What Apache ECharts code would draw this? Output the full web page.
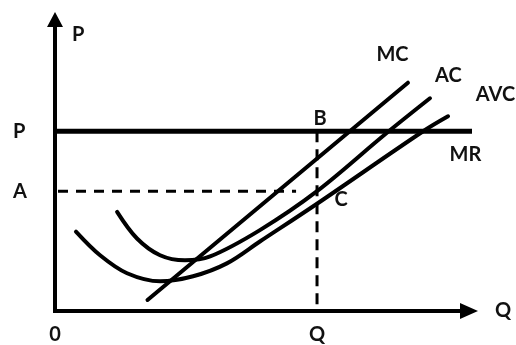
<!DOCTYPE html>
<html>
<head>
<meta charset="utf-8">
<script src="https://cdn.jsdelivr.net/npm/echarts@6/dist/echarts.min.js"></script>
<style>
  html, body { margin: 0; padding: 0; background: #fff; }
  #main { width: 516px; height: 345px; }
</style>
</head>
<body>
<div id="main"></div>
<script>
// quantity Q = 10, price P = 6, average cost A = 4 (arbitrary units)
var priceP = 6;
var costA = 4;
var outputQ = 10;

// curves: [quantity, cost]
var mcCurve = [[3.53, 0.37], [13.47, 7.62]];
var acCurve = [[2.37, 3.31], [3.13, 2.42], [4.01, 1.86], [4.96, 1.69], [5.92, 1.82],
  [7.82, 2.7], [10.0, 4.0], [12.6, 5.9], [14.31, 7.1]];
var avcCurve = [[0.80, 2.65], [1.72, 1.86], [2.75, 1.26], [4.01, 0.99], [5.27, 1.16],
  [6.56, 1.59], [7.82, 2.32], [10.0, 3.58], [14.05, 6.0], [15.0, 6.5]];
var mrEnd = 16.15;
var aDashEnd = 9.2;

var xLabels = { 0: '0', 10: 'Q' };
var yLabels = { 4: 'A', 6: 'P' };

var chart = echarts.init(document.getElementById('main'));

var font = { fontFamily: 'Lato', fontWeight: 'bold', fontSize: 20, color: '#111' };

function curve(name, data, off) {
  return {
    name: name,
    type: 'line',
    data: data,
    smooth: 0.35,
    showSymbol: false,
    lineStyle: { color: '#000', width: 4, cap: 'round' },
    endLabel: Object.assign({
      show: true,
      formatter: name,
      distance: 0,
      align: 'center',
      verticalAlign: 'middle',
      offset: off
    }, font)
  };
}

var option = {
  animation: false,
  backgroundColor: '#fff',
  grid: { left: 55, right: 47, top: 19.5, bottom: 32 },
  xAxis: {
    type: 'value',
    min: 0,
    max: 15.8,
    name: 'Q',
    nameLocation: 'end',
    nameGap: 26,
    nameTextStyle: Object.assign({ padding: [12, 0, 0, 0] }, font),
    axisLine: {
      symbol: ['none', 'triangle'],
      symbolSize: [16, 18],
      lineStyle: { color: '#000', width: 4, cap: 'square' }
    },
    axisTick: { show: false },
    splitLine: { show: false },
    axisLabel: Object.assign({
      customValues: [0, outputQ],
      margin: 14,
      verticalAlign: 'top',
      formatter: function (v) { return xLabels[v] || ''; }
    }, font)
  },
  yAxis: {
    type: 'value',
    min: 0,
    max: 9.73,
    name: 'P',
    nameLocation: 'end',
    nameGap: -5.5,
    nameTextStyle: Object.assign({ align: 'left', verticalAlign: 'top', padding: [0, 0, 0, 17] }, font),
    axisLine: {
      symbol: ['none', 'triangle'],
      symbolSize: [16, 15],
      lineStyle: { color: '#000', width: 4, cap: 'square' }
    },
    axisTick: { show: false },
    splitLine: { show: false },
    axisLabel: Object.assign({
      customValues: [costA, priceP],
      margin: 42,
      align: 'left',
      verticalAlign: 'middle',
      padding: [8, 0, 0, 0],
      formatter: function (v) { return yLabels[v] || ''; }
    }, font)
  },
  series: [
    {
      name: 'MR',
      type: 'line',
      data: [[0, priceP], [mrEnd, priceP]],
      clip: false,
      showSymbol: false,
      lineStyle: { color: '#000', width: 5 },
      endLabel: Object.assign({
        show: true, formatter: 'MR', distance: 0,
        align: 'center', verticalAlign: 'middle', offset: [-6.5, 23]
      }, font),
      z: 3
    },
    {
      name: 'Q dash',
      type: 'line',
      data: [[outputQ, priceP], [outputQ, 0]],
      showSymbol: false,
      lineStyle: { color: '#000', width: 3, type: [11, 7] },
      z: 1
    },
    {
      name: 'A dash',
      type: 'line',
      data: [[0, costA], [aDashEnd, costA]],
      showSymbol: false,
      lineStyle: { color: '#000', width: 3, type: [10, 8], dashOffset: -3 },
      z: 1
    },
    curve('MC', mcCurve, [-15.5, -28]),
    curve('AC', acCurve, [18.5, -23]),
    curve('AVC', avcCurve, [47.5, -21.5]),
    {
      name: 'points',
      type: 'scatter',
      symbolSize: 0,
      itemStyle: { color: '#111', opacity: 1 },
      data: [
        { value: [outputQ, priceP], label: { formatter: 'B', offset: [3, -3] } },
        { value: [outputQ, costA], label: { formatter: 'C', offset: [24, 18.5] } }
      ],
      label: Object.assign({ show: true, position: 'top', distance: 0, opacity: 1 }, font),
      z: 5
    }
  ]
};

chart.setOption(option);
</script>
</body>
</html>
